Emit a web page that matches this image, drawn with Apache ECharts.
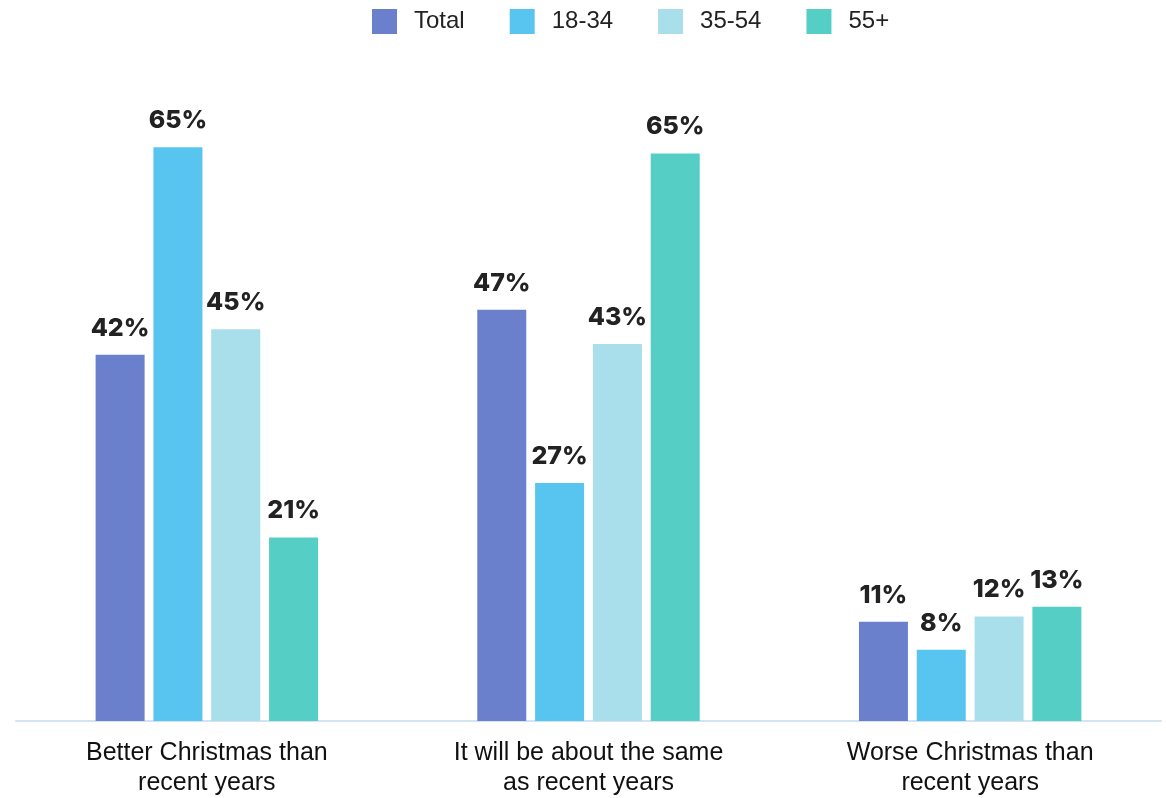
<!DOCTYPE html>
<html>
<head>
<meta charset="utf-8">
<script src="https://cdn.jsdelivr.net/npm/echarts@6/dist/echarts.min.js"></script>
<style>
html,body{margin:0;padding:0;background:#fff;}
#chart{width:1166px;height:798px;}
</style>
</head>
<body>
<div id="chart"></div>
<script>
const categories = ['Better Christmas than\nrecent years', 'It will be about the same\nas recent years', 'Worse Christmas than\nrecent years'];
const seriesNames = ['Total', '18-34', '35-54', '55+'];
const totalValues = [41.7, 46.8, 11.3];
const age1834Values = [65.3, 27.1, 8.1];
const age3554Values = [44.6, 42.9, 11.9];
const age55Values = [20.9, 64.6, 13.0];
const colors = ['#6B80CD', '#58C5F0', '#A8DFEA', '#55CFC5'];

const allValues = [totalValues, age1834Values, age3554Values, age55Values];
const font = "'Liberation Sans', Arial, Helvetica, sans-serif";
const labelFont = "Inter, 'Liberation Sans', Arial, sans-serif";

const chart = echarts.init(document.getElementById('chart'), null, {renderer: 'canvas'});
chart.setOption({
  animation: false,
  color: colors,
  textStyle: {fontFamily: font},
  legend: {
    left: 367, top: 4,
    itemWidth: 25, itemHeight: 25, itemGap: 45,
    icon: 'rect',
    textStyle: {fontSize: 24, color: '#222', fontFamily: font, padding: [0, 0, 0, 12]},
    data: seriesNames
  },
  grid: {left: 16, right: 5, top: 106, bottom: 73, containLabel: false},
  xAxis: {
    type: 'category',
    data: categories,
    axisLine: {show: true, lineStyle: {color: '#D3E3F2', width: 2}},
    axisTick: {show: false},
    axisLabel: {fontSize: 25, color: '#111', lineHeight: 30, margin: 17, fontFamily: font, interval: 0}
  },
  yAxis: {
    type: 'value', min: 0, max: 70,
    show: false,
    splitLine: {show: false}
  },
  series: seriesNames.map((name, i) => ({
    name: name,
    type: 'bar',
    data: allValues[i],
    barWidth: 49,
    barGap: '18%',
    itemStyle: {color: colors[i]},
    label: {
      show: true, position: 'top', distance: 14,
      fontSize: 25, fontWeight: 800, color: '#222', fontFamily: labelFont,
      formatter: p => Math.round(p.value) + '%'
    }
  }))
});
</script>
</body>
</html>
